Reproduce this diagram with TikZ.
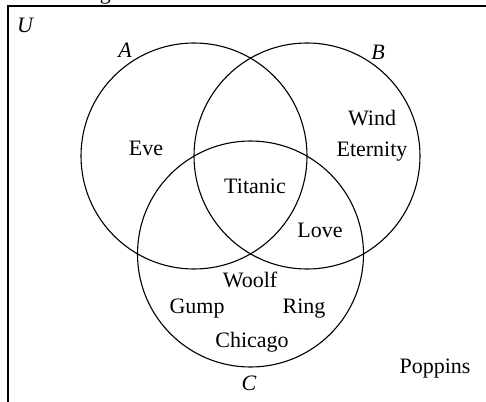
\documentclass[tikz,border=0pt]{standalone}
\usepackage{fontspec}
\setmainfont{Liberation Serif}
\usetikzlibrary{positioning}
\tikzset{
  word/.style={font=\fontsize{22}{26}\selectfont, anchor=base, inner sep=0pt},
  setname/.style={word, font=\fontsize{22}{26}\selectfont\itshape},
  ring/.style={line width=1.1pt},
}

\begin{document}
\begin{tikzpicture}[x=1pt,y=-1pt]
  \useasboundingbox (0,0) rectangle (486,401);
  \clip (0,0) rectangle (486,401);

  % caption, cut off at the top
  \node[word, anchor=base west] (cap) at (22,-0.5) {Venn diagram.};

  % universe
  \draw[line width=1.4pt] (8,6) rectangle (520,440);
  \node[setname] (U) at (25,33) {U};

  % the three sets
  \draw[ring] (194,156) circle [radius=113pt];
  \draw[ring] (307,156) circle [radius=113pt];
  \draw[ring] (250.5,254) circle [radius=113pt];

  \node[setname] (A) at (125,58) {A};
  \node[setname] (B) at (378,60) {B};
  \node[setname] (C) at (249,390) {C};

  % films
  \node[word] (eve) at (146,155) {Eve};
  \node[word] (wind) at (372,125) {Wind};
  \node[word] (eternity) at (372,156) {Eternity};
  \node[word] (titanic) at (255,193) {Titanic};
  \node[word] (love) at (320,237) {Love};
  \node[word] (woolf) at (250,287) {Woolf};
  \node[word] (gump) at (197,313) {Gump};
  \node[word] (lotr) at (304,313) {Ring};
  \node[word] (chicago) at (252,347) {Chicago};
  \node[word] (poppins) at (435,373) {Poppins};
\end{tikzpicture}
\end{document}
